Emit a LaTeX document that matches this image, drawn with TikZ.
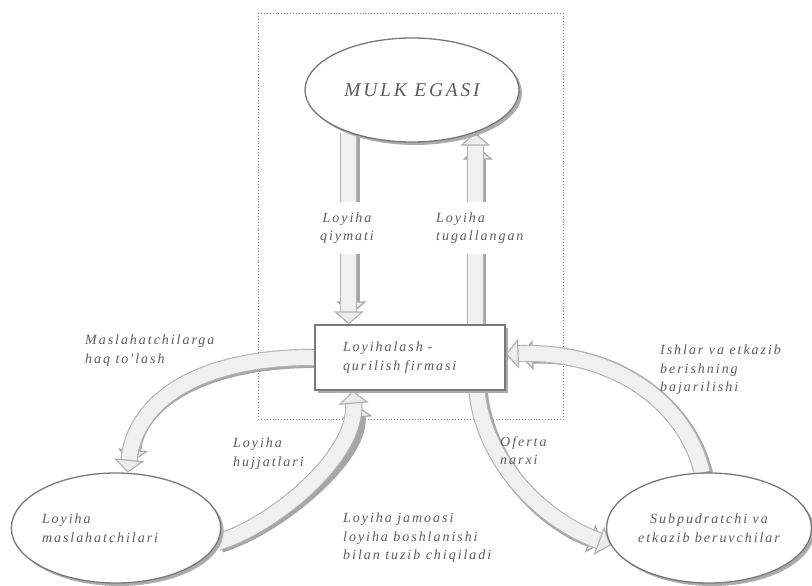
\documentclass[tikz,border=0pt]{standalone}
\usepackage{fontspec}
\setmainfont{Liberation Serif}
\newfontfamily\lblfont[LetterSpace=14]{Liberation Serif}
\usetikzlibrary{shapes.geometric,arrows.meta,shadows,calc}
\definecolor{txtgray}{HTML}{5C5C5C}
\definecolor{edgegray}{HTML}{787878}
\pgfdeclarelayer{bg}
\pgfsetlayers{bg,main}
\begin{document}
\begin{tikzpicture}[x=1pt,y=-1pt,
  txt/.style={text=txtgray, font=\lblfont\itshape\fontsize{14}{18.5}\selectfont},
  lbl/.style={txt, align=left, anchor=north west, inner sep=0pt},
  gaplbl/.style={txt, fill=white, inner xsep=1pt, inner ysep=10pt},
  shade/.style={drop shadow={shadow xshift=3pt, shadow yshift=-3pt, fill=gray!65, opacity=1}},
  oval/.style={ellipse, draw=edgegray, line width=1.3pt, fill=white, shade, txt, inner sep=0pt},
  firmbox/.style={rectangle, draw=edgegray, line width=1.3pt, fill=white, shade, txt, inner sep=0pt},
  fat/.style={draw=gray!60, line width=1.1pt, double=gray!12, double distance=15pt,
    preaction={draw=gray!70, line width=17pt, shorten >=12pt,
               transform canvas={xshift=2.5pt, yshift=-2pt}},
    -{Triangle[length=13pt,width=30pt,fill=gray!15,line width=1.2pt]}},
  frame/.style={dotted, gray, line width=0.9pt}
]
\useasboundingbox (0,0) rectangle (812,586);

% main nodes
\node[oval, minimum width=214pt, minimum height=104pt,
      font=\lblfont\itshape\fontsize{19.5}{24}\selectfont] (owner) at (412,90) {MULK EGASI};
\node[firmbox, minimum width=190pt, minimum height=65pt, text width=134pt, align=left]
      (firm) at (410,357.5) {Loyihalash -\\qurilish firmasi};
\node[oval, minimum width=205pt, minimum height=110pt, text width=148pt, align=left]
      (cons) at (116,528) {Loyiha\\maslahatchilari};
\node[oval, minimum width=205pt, minimum height=110pt, align=center]
      (subs) at (709,528) {Subpudratchi va\\etkazib beruvchilar};

% labels
\node[lbl] (lhaq) at (85,335) {Maslahatchilarga\\haq to'lash};
\node[lbl] (lhuj) at (233,438) {Loyiha\\hujjatlari};
\node[lbl] (lofe) at (500,436) {Oferta\\narxi};
\node[lbl] (lish) at (660,345) {Ishlar va etkazib\\berishning\\bajarilishi};
\node[lbl] (ljam) at (343,513) {Loyiha jamoasi\\loyiha boshlanishi\\bilan tuzib chiqiladi};
\node[gaplbl, align=center] (lqiy) at (347,228) {Loyiha\\qiymati};
\node[gaplbl, align=left, anchor=west] (ltug) at (435,228) {Loyiha\\tugallangan};

\begin{pgfonlayer}{bg}
  \draw[frame] (258,13) rectangle (563,419);
  % vertical arrows
  \draw[fat] (owner.-146) -- (owner.-146 |- firm.north);
  \draw[fat] (owner.-34 |- firm.north) -- (owner.-34);
  % curved arrows
  \draw[fat] (firm.west) .. controls (200,357) and (135,400) .. (cons.78);
  \draw[fat] (cons.-8) .. controls (275,525) and (358,455) .. ($(firm.south west)!0.2!(firm.south east)$);
  \draw[fat] ($(firm.south west)!0.85!(firm.south east)$) .. controls (482,450) and (530,515) .. (subs.190);
  \draw[fat] (subs.97) .. controls (685,400) and (610,350) .. ($(firm.north east)!0.45!(firm.south east)$);
\end{pgfonlayer}
\end{tikzpicture}
\end{document}
